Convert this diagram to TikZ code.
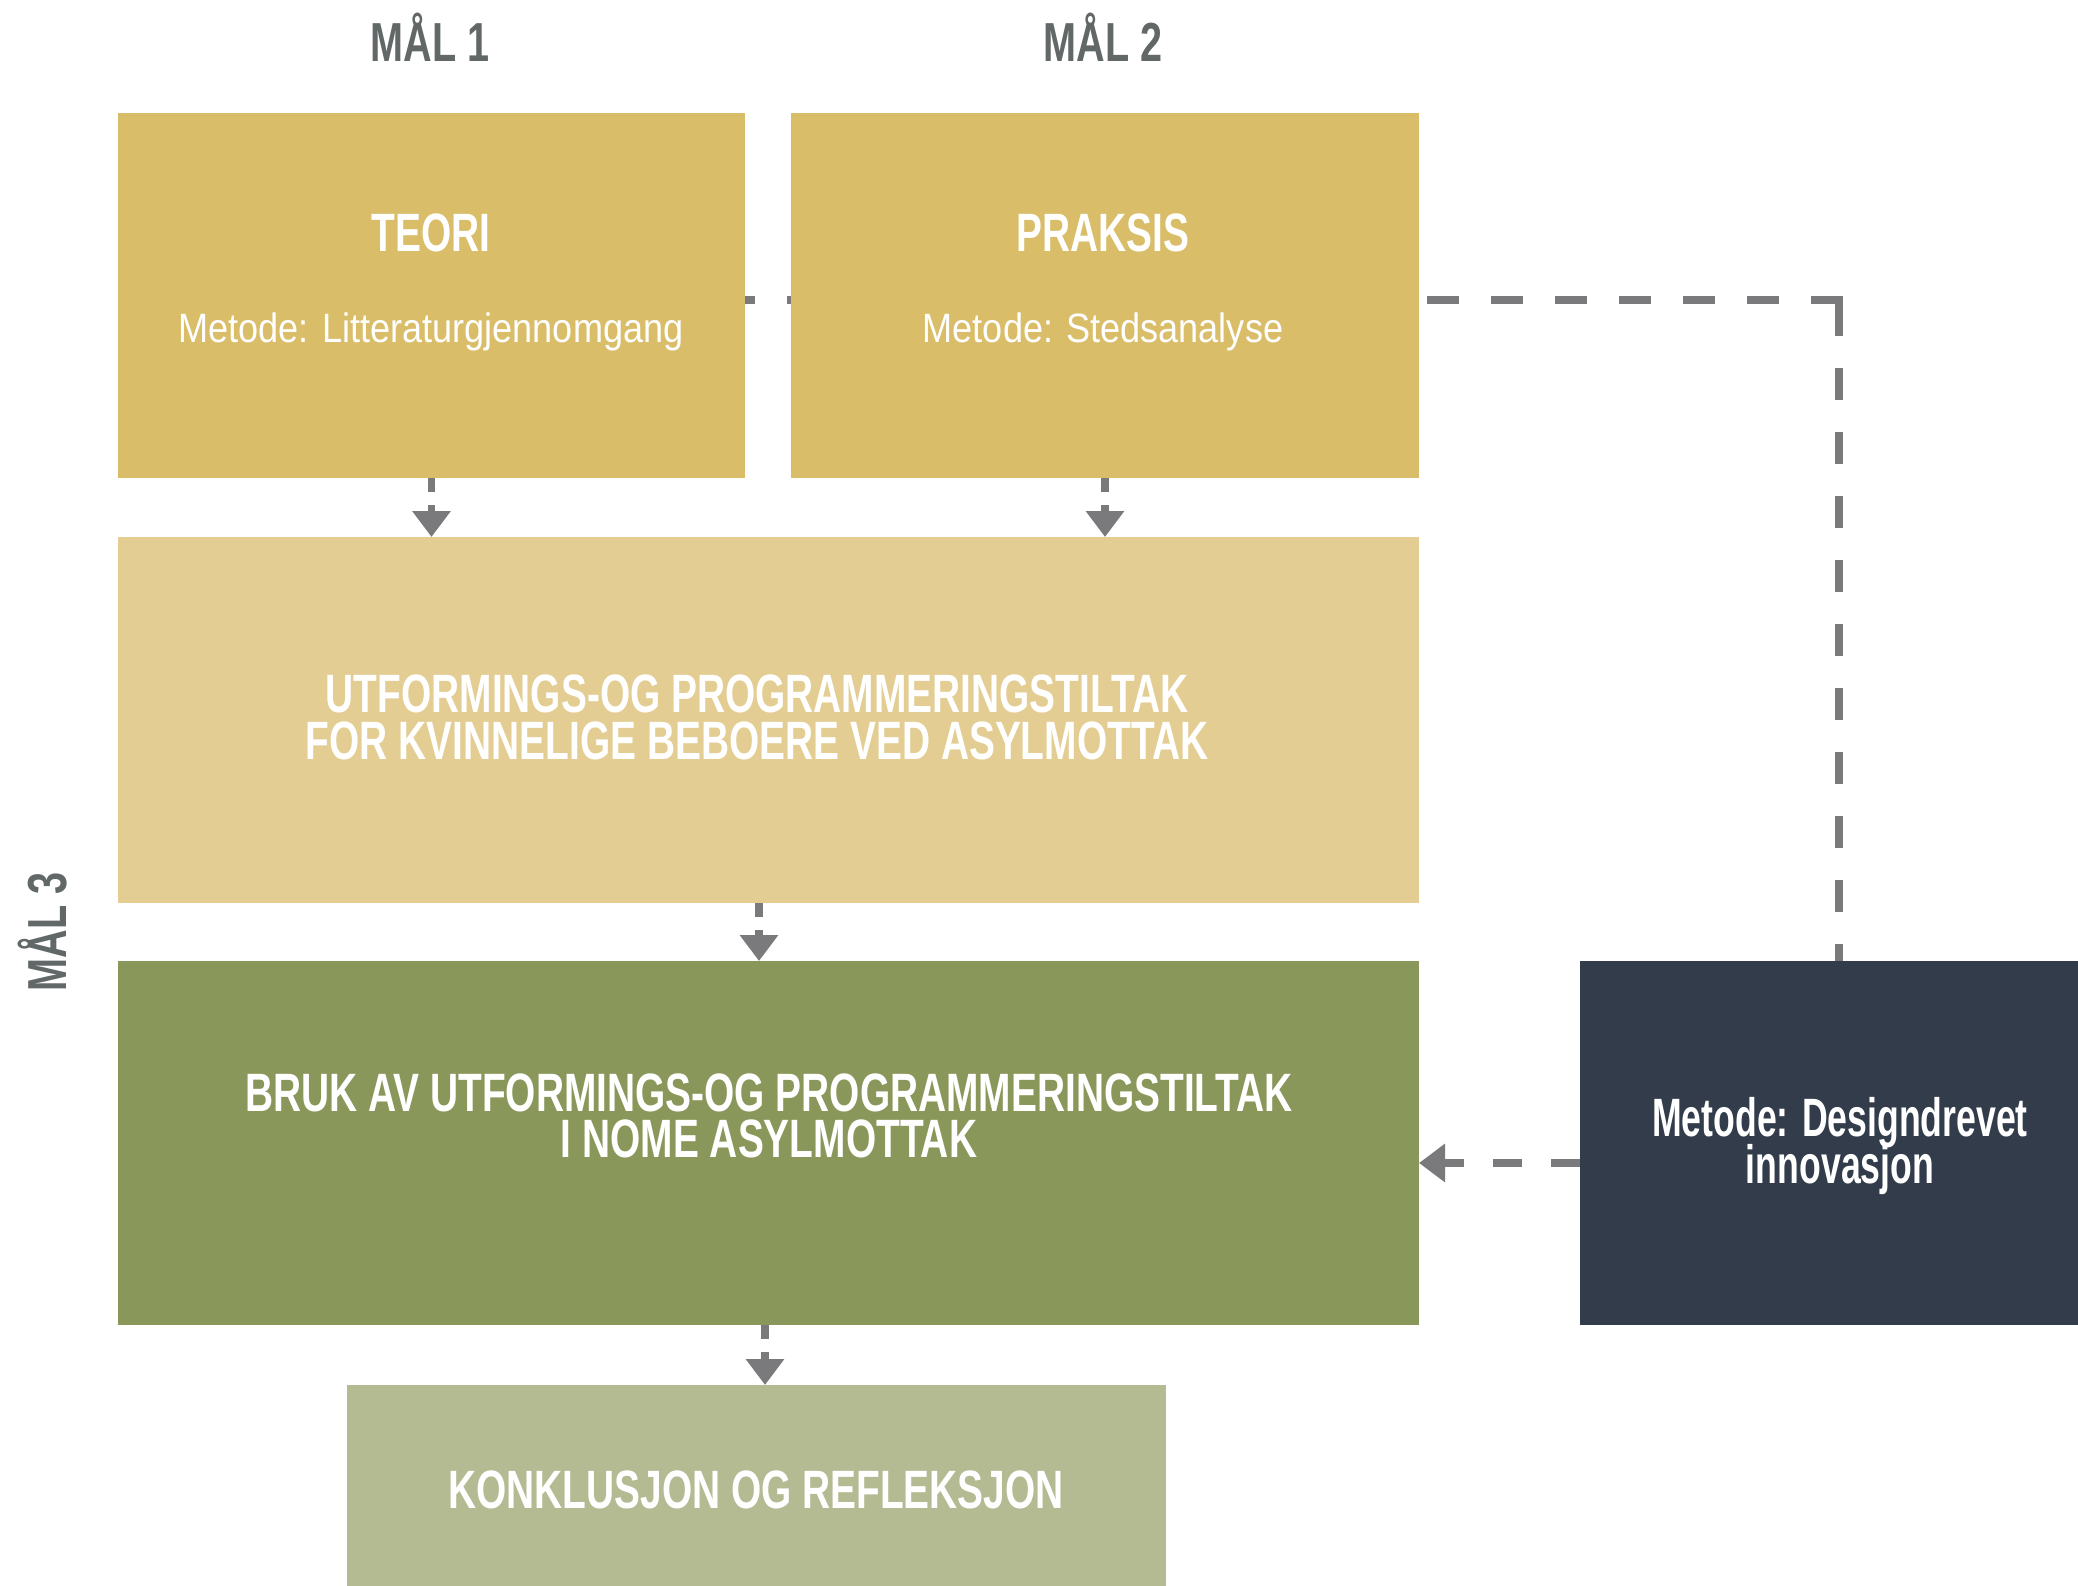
\documentclass[tikz,border=0pt]{standalone}
\usepackage{fontspec}
\setmainfont{Liberation Sans}
\newfontfamily\bcond{Liberation Sans}[FakeStretch=0.72]
\newfontfamily\dcond{Liberation Sans}[FakeStretch=0.66]
\newfontfamily\rcond{Liberation Sans}[FakeStretch=0.88]
\usetikzlibrary{arrows.meta}
\definecolor{gold}{HTML}{D9BD69}
\definecolor{sand}{HTML}{E3CD92}
\definecolor{olive}{HTML}{8A975B}
\definecolor{sage}{HTML}{B4BA92}
\definecolor{slate}{HTML}{323C4B}
\definecolor{labelgray}{HTML}{626867}
\definecolor{linegray}{HTML}{7A7A7C}
\begin{document}
\begin{tikzpicture}[x=1pt,y=-1pt,
  box/.style={draw=none,inner sep=0pt,outer sep=0pt},
  btxt/.style={font=\bcond\bfseries\fontsize{54}{48}\selectfont,text=white,anchor=base,inner sep=0pt},
  dtxt/.style={font=\dcond\bfseries\fontsize{54}{48}\selectfont,text=white,anchor=base,inner sep=0pt},
  rtxt/.style={font=\rcond\fontsize{41}{48}\selectfont,text=white,anchor=base,inner sep=0pt},
  gtxt/.style={font=\bcond\bfseries\fontsize{55}{48}\selectfont,text=labelgray,anchor=base,inner sep=0pt},
  flow/.style={draw=linegray,line width=7.5pt,dash pattern=on 14pt off 13pt,-{Triangle[width=37pt,length=26pt]}},
  longdash/.style={draw=linegray,line width=7.5pt,dash pattern=on 32pt off 32pt}]
\useasboundingbox (0,0) rectangle (2078,1586);
% dashed feedback line (behind boxes)
\coordinate (corner) at (1839,300);
\coordinate (tstart) at (745,300);
\coordinate (dtop) at (1839,961);
\draw[longdash] ([xshift=4pt]corner) -- (tstart);
\draw[longdash] ([yshift=-4pt]corner) -- (dtop);
% boxes
\node[box,fill=gold,minimum width=627pt,minimum height=365pt] (teori) at (431.5,295.5) {};
\node[box,fill=gold,minimum width=628pt,minimum height=365pt] (praksis) at (1105,295.5) {};
\node[box,fill=sand,minimum width=1301pt,minimum height=366pt] (mid) at (768.5,720) {};
\node[box,fill=olive,minimum width=1301pt,minimum height=364pt] (green) at (768.5,1143) {};
\node[box,fill=slate,minimum width=520pt,minimum height=364pt] (dark) at (1840,1143) {};
\node[box,fill=sage,minimum width=819pt,minimum height=235pt] (bottom) at (756.5,1502.5) {};
% labels
\node[gtxt] (mal1) at (430,62) {MÅL 1};
\node[gtxt] (mal2) at (1103,62) {MÅL 2};
\node[gtxt,rotate=90] (mal3) at (66,932) {MÅL 3};
\node[btxt] (teoriT) at (431,252) {TEORI};
\node[rtxt] (teoriM) at (431,343) {Metode: Litteraturgjennomgang};
\node[btxt] (praksisT) at (1103,252) {PRAKSIS};
\node[rtxt] (praksisM) at (1103,343) {Metode: Stedsanalyse};
\node[btxt] (midA) at (757,712) {UTFORMINGS-OG PROGRAMMERINGSTILTAK};
\node[btxt] (midB) at (757,759) {FOR KVINNELIGE BEBOERE VED ASYLMOTTAK};
\node[btxt] (greenA) at (769,1111) {BRUK AV UTFORMINGS-OG PROGRAMMERINGSTILTAK};
\node[btxt] (greenB) at (769,1157) {I NOME ASYLMOTTAK};
\node[dtxt] (darkA) at (1840,1136) {Metode: Designdrevet};
\node[dtxt] (darkB) at (1840,1183) {innovasjon};
\node[btxt] (bottomT) at (756,1508) {KONKLUSJON OG REFLEKSJON};
% arrows
\draw[flow] (teori.south) -- (teori.south |- mid.north);
\draw[flow] (praksis.south) -- (praksis.south |- mid.north);
\draw[flow] ([xshift=-9.5pt]mid.south) -- ([xshift=-9.5pt]green.north);
\draw[flow] ([xshift=-3.5pt]green.south) -- ([xshift=-3.5pt]green.south |- bottom.north);
\draw[flow,dash pattern=on 29pt off 29pt] (dark.west |- 0,1163) -- (green.east |- 0,1163);
\end{tikzpicture}
\end{document}
